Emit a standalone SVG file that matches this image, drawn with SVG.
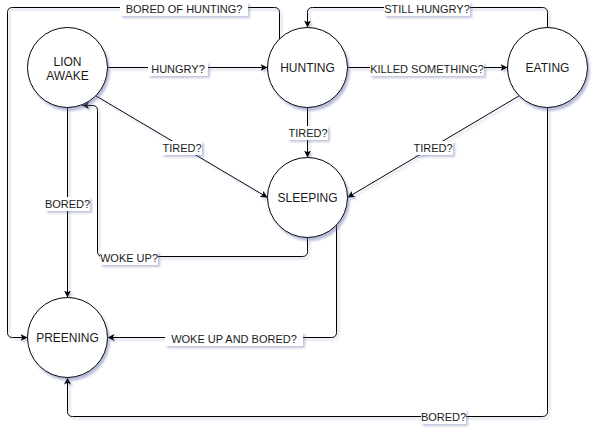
<svg xmlns="http://www.w3.org/2000/svg" width="594" height="432" viewBox="0 0 594 432">
<defs>
<filter id="sh" x="-20%" y="-20%" width="150%" height="150%">
<feDropShadow dx="2" dy="3" stdDeviation="1.3" flood-color="#6070a8" flood-opacity="0.45"/>
</filter>
<filter id="lsh" x="-20%" y="-50%" width="140%" height="220%">
<feDropShadow dx="2" dy="2" stdDeviation="1" flood-color="#6070a8" flood-opacity="0.4"/>
</filter>
<marker id="arr" markerUnits="userSpaceOnUse" markerWidth="10" markerHeight="10" refX="7" refY="3.5" orient="auto">
<path d="M0,0 L7,3.5 L0,7 L1.8,3.5 Z" fill="#000"/>
</marker>
</defs>
<style>
.node circle{fill:#fff;stroke:#000;stroke-width:1;filter:url(#sh)}
.node text{font-family:"Liberation Sans",Arial,sans-serif;font-size:12px;fill:#1a1a1a;text-anchor:middle}
#connectors path{fill:none;stroke:#000;stroke-width:1;marker-end:url(#arr)}
#connectors .lines{filter:url(#lsh)}
.lbl rect{fill:#fff;filter:url(#lsh)}
.lbl text{font-family:"Liberation Sans",Arial,sans-serif;font-size:11px;fill:#1a1a1a;text-anchor:middle}
</style>
<rect width="594" height="432" fill="#fff"/>
<g id="connectors">
<g class="lines">
<path id="e-hungry" d="M107.5,67.5 H267.5"/>
<path id="e-killed" d="M347.5,67.5 H507.5"/>
<path id="e-tired-h" d="M307.5,107.5 V157.5"/>
<path id="e-tired-l" d="M95.8,95.8 L267.5,197.5"/>
<path id="e-tired-e" d="M519.2,95.8 L347.5,197.5"/>
<path id="e-wokeup" d="M307.5,237.5 V251.5 Q307.5,256.5 302.5,256.5 H102.5 Q97.5,256.5 97.5,251.5 V110.5 Q97.5,105.5 92.5,105.5 H82"/>
<path id="e-wokebored" d="M336.5,225 V332.5 Q336.5,337.5 331.5,337.5 H107.5"/>
<path id="e-bored-l" d="M67.5,107.5 V297.5"/>
<path id="e-boredhunt" d="M279.5,39 V12.5 Q279.5,7.5 274.5,7.5 H12.5 Q7.5,7.5 7.5,12.5 V332.5 Q7.5,337.5 12.5,337.5 H27.5"/>
<path id="e-still" d="M547.5,27.5 V12.5 Q547.5,7.5 542.5,7.5 H312.5 Q307.5,7.5 307.5,12.5 V27.5"/>
<path id="e-bored-b" d="M547.5,107.5 V411.5 Q547.5,416.5 542.5,416.5 H72.5 Q67.5,416.5 67.5,411.5 V377.5"/>
</g>
<g class="lbl"><rect x="120" y="2" width="128" height="14"/><text x="184" y="13">BORED OF HUNTING?</text></g>
<g class="lbl"><rect x="148" y="62" width="60" height="14"/><text x="178" y="73">HUNGRY?</text></g>
<g class="lbl"><rect x="384" y="2" width="86" height="14"/><text x="427" y="13">STILL HUNGRY?</text></g>
<g class="lbl"><rect x="370" y="62" width="114" height="14"/><text x="427" y="73">KILLED SOMETHING?</text></g>
<g class="lbl"><rect x="288" y="126" width="40" height="14"/><text x="308" y="137">TIRED?</text></g>
<g class="lbl"><rect x="162" y="141" width="40" height="14"/><text x="182" y="152">TIRED?</text></g>
<g class="lbl"><rect x="413" y="141" width="40" height="14"/><text x="433" y="152">TIRED?</text></g>
<g class="lbl"><rect x="45" y="197" width="45" height="14"/><text x="67.5" y="208">BORED?</text></g>
<g class="lbl"><rect x="100" y="251" width="58" height="14"/><text x="129" y="262">WOKE UP?</text></g>
<g class="lbl"><rect x="165" y="332" width="138" height="14"/><text x="234" y="343">WOKE UP AND BORED?</text></g>
<g class="lbl"><rect x="421" y="410" width="45" height="14"/><text x="443.5" y="421">BORED?</text></g>
</g>
<g id="lion" class="node"><circle cx="67.5" cy="67.5" r="40"/><text x="67.5" y="65.5">LION</text><text x="67.5" y="79.5">AWAKE</text></g>
<g id="hunting" class="node"><circle cx="307.5" cy="67.5" r="40"/><text x="307.5" y="72">HUNTING</text></g>
<g id="eating" class="node"><circle cx="547.5" cy="67.5" r="40"/><text x="547.5" y="72">EATING</text></g>
<g id="sleeping" class="node"><circle cx="307.5" cy="197.5" r="40"/><text x="307.5" y="202">SLEEPING</text></g>
<g id="preening" class="node"><circle cx="67.5" cy="337.5" r="40"/><text x="67.5" y="342">PREENING</text></g>
</svg>
